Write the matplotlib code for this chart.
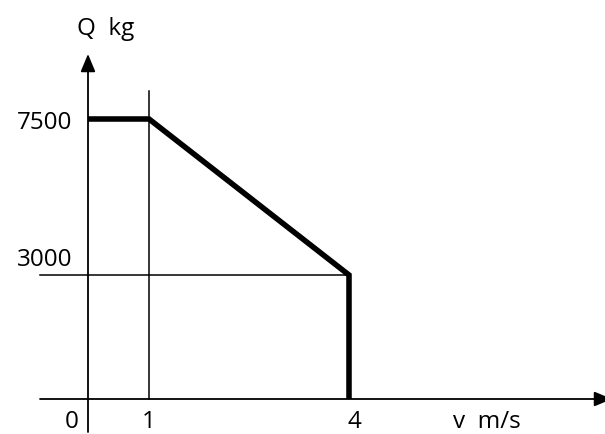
import numpy as np
import matplotlib.pyplot as plt

# load diagram: Q (kg) against v (m/s)
speed = [0, 1, 4, 4]
load = [7500, 7500, 3000, 0]
x_ticks = [0, 1, 4]
y_ticks = [7500, 3000]

# the sketch is not drawn to scale, so the axes use piecewise linear scales
x_anchor = ([0, 1, 4], [88, 149, 349])
y_anchor = ([0, 3000, 7500], [35, 159, 315])


def piecewise(v, p):
    v = np.asarray(v, float)
    p = np.asarray(p, float)

    def f(x):
        x = np.asarray(x, float)
        out = np.interp(x, v, p)
        out = np.where(x < v[0], p[0] + (x - v[0]) * (p[1] - p[0]) / (v[1] - v[0]), out)
        out = np.where(x > v[-1], p[-1] + (x - v[-1]) * (p[-1] - p[-2]) / (v[-1] - v[-2]), out)
        return out
    return f


fx = piecewise(*x_anchor)
ix = piecewise(x_anchor[1], x_anchor[0])
fy = piecewise(*y_anchor)
iy = piecewise(y_anchor[1], y_anchor[0])

def px(x):
    return float(ix(x))

def py(y):
    return float(iy(435 - y))

plt.rcParams['font.family'] = ['Open Sans', 'DejaVu Sans']

fig = plt.figure(figsize=(6.05, 4.35), dpi=100)
ax = fig.add_axes([0, 0, 1, 1])
ax.set_xscale('function', functions=(fx, ix))
ax.set_yscale('function', functions=(fy, iy))
ax.set_xlim(px(0), px(605))
ax.set_ylim(py(435), py(0))
ax.axis('off')

arrow = dict(arrowstyle='-|>,head_length=0.6,head_width=0.25', lw=1.3, color='black',
             mutation_scale=18, shrinkA=0, shrinkB=0)
# axes with arrows
ax.annotate('', xy=(px(612), 0), xytext=(px(40), 0), arrowprops=arrow, annotation_clip=False)
ax.annotate('', xy=(0, py(55)), xytext=(0, py(433)), arrowprops=arrow, annotation_clip=False)

# guide lines
ax.plot([speed[1], speed[1]], [0, py(92)], color='black', lw=1.1)
ax.plot([px(40), speed[2]], [load[2], load[2]], color='black', lw=1.1)

# the curve
ax.plot(speed, load, color='black', lw=4, solid_joinstyle='miter', solid_capstyle='butt', zorder=3)

fs = 17.5
ax.annotate(str(y_ticks[0]), xy=(0, y_ticks[0]), xytext=(-16, 0), textcoords='offset pixels',
            ha='right', va='center_baseline', fontsize=fs)
ax.annotate(str(y_ticks[1]), xy=(0, y_ticks[1]), xytext=(-16, 19), textcoords='offset pixels',
            ha='right', va='center_baseline', fontsize=fs)
for t, dx in zip(x_ticks, [-16, 0, 5]):
    ax.text(t + px(88 + dx) - px(88), py(434), str(t), ha='center', va='bottom', fontsize=fs)
ax.text(px(487), py(434), 'v  m/s', ha='center', va='bottom', fontsize=fs)
ax.text(px(106), py(26), 'Q  kg', ha='center', va='center_baseline', fontsize=fs)

fig.savefig('out.png', dpi=100)
